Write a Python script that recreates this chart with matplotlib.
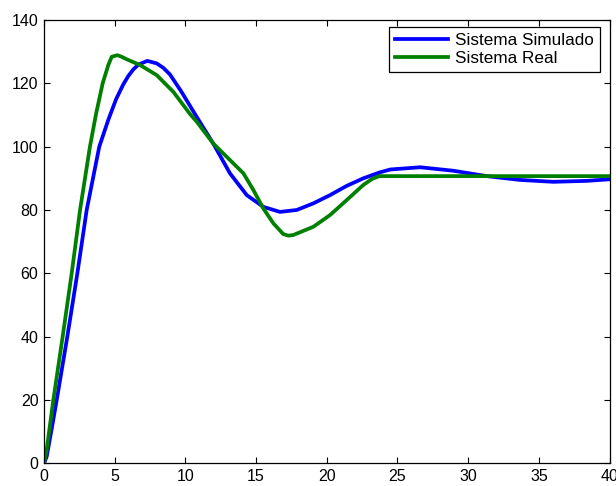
import matplotlib
matplotlib.use('Agg')
import matplotlib.pyplot as plt

plt.rcParams['font.family'] = ['Liberation Sans', 'DejaVu Sans']

# Sistema simulado
t_sim = [0, 0.19, 0.55, 0.9, 1.65, 2.36, 3.02, 3.91, 4.55, 5.1, 5.6, 5.96, 6.32,
         6.67, 7.31, 7.97, 8.44, 8.91, 9.7, 10.8, 11.97, 13.15, 14.34, 15.51,
         16.69, 17.87, 19.05, 20.23, 21.4, 22.58, 23.76, 24.5, 26.6, 28.95, 31.3,
         33.66, 36.02, 38.38, 40]
y_sim = [0, 2.1, 11, 20, 40, 60, 80, 100, 108.5, 115, 119.6, 122.3, 124.4,
         125.9, 127.1, 126.3, 124.9, 122.8, 117.5, 109.4, 101, 91.6, 84.7, 81,
         79.4, 80, 82.1, 84.7, 87.6, 90, 91.9, 92.8, 93.5, 92.4, 90.7,
         89.5, 88.9, 89.2, 89.7]

# Sistema real
t_real = [0, 0.19, 0.66, 1.32, 1.96, 2.55, 3.25, 3.68, 4.15, 4.55, 4.79, 5.19, 5.49,
          5.85, 6.79, 7.97, 9.15, 10.33, 10.8, 11.97, 13.15, 14.1, 14.81, 15.51,
          16.22, 16.92, 17.28, 17.63, 19.05, 20.23, 21.4, 22.58, 23.2, 23.7, 40]
y_real = [0, 4.2, 20, 40, 60, 80, 100, 110.3, 120, 125.8, 128.4, 128.9, 128.4,
          127.6, 125.8, 122.6, 117.3, 110.3, 107.9, 101, 95.8, 91.6, 86.3, 80.5,
          75.8, 72.4, 71.9, 72.1, 74.7, 78.4, 83.1, 87.9, 89.8, 90.7, 90.7]

fig = plt.figure(figsize=(6.16, 4.86), dpi=100)
ax = fig.add_axes([0.0714, 0.0467, 0.9182, 0.9121])

ax.plot(t_sim, y_sim, color=(0, 0, 1), lw=2.7, label='Sistema Simulado',
        solid_joinstyle='round')
ax.plot(t_real, y_real, color=(0, 0.5, 0), lw=2.7, label='Sistema Real',
        solid_joinstyle='round')

ax.set_xlim(0, 40)
ax.set_ylim(0, 140)
ax.set_xticks(range(0, 41, 5))
ax.set_yticks(range(0, 141, 20))
ax.tick_params(direction='in', length=4.5, width=0.8, top=True, right=True,
               labelsize=11.5, pad=4)
for s in ax.spines.values():
    s.set_linewidth(0.9)

leg = ax.legend(loc='upper right', bbox_to_anchor=(0.983, 0.984), borderaxespad=0,
                fontsize=12.3, fancybox=False, framealpha=1, edgecolor='black',
                handlelength=3.15, handletextpad=0.4, labelspacing=0.15,
                borderpad=0.35)
leg.get_frame().set_linewidth(0.9)

plt.savefig('out.png', dpi=100)
